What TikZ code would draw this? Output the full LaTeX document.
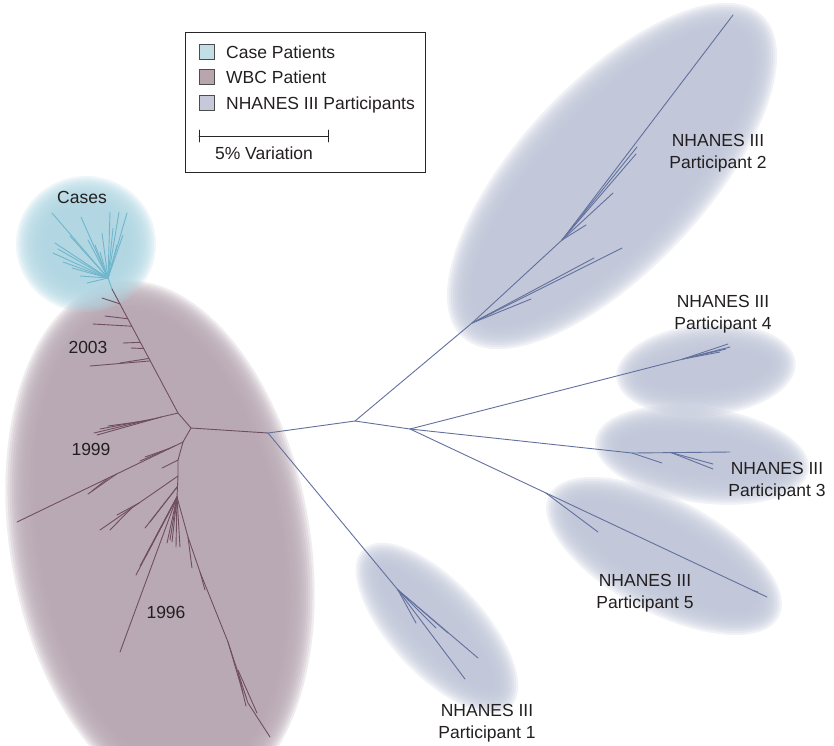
\documentclass[tikz,border=0pt]{standalone}
\usepackage{fontspec}
\setmainfont{Liberation Sans}
\usetikzlibrary{calc}

\definecolor{casecol}{RGB}{112,182,204}
\definecolor{caseblob}{RGB}{176,214,226}
\definecolor{wbccol}{RGB}{112,78,98}
\definecolor{wbcblob}{RGB}{183,167,178}
\definecolor{nhcol}{RGB}{98,112,158}
\definecolor{nhblob}{RGB}{192,198,216}
\definecolor{txt}{RGB}{35,31,32}

% soft cloud: colour, centre, angle, x radius, y radius
\newcommand{\blob}[5]{%
  \foreach \k in {0,...,13}
    \fill[#1, opacity=.22, rotate around={#3:#2}] #2 ellipse [x radius={(#4-2.2*\k)*1pt}, y radius={(#5-2.2*\k)*1pt}];
}

\begin{document}
\begin{tikzpicture}[x=1pt,y=-1pt,line cap=round,
  caseline/.style={casecol,line width=.9pt},
  wbcline/.style={wbccol,line width=.9pt},
  nhline/.style={nhcol,line width=.9pt},
  lbl/.style={txt,align=center,font=\fontsize{17.5}{21.5}\selectfont},
  swatch/.style={draw=black!70,line width=.6pt,minimum size=15pt,inner sep=0pt}]
\useasboundingbox (0,0) rectangle (834,745);

% clouds
\blob{wbcblob}{(160,542)}{10}{150}{264}
\blob{caseblob}{(86,244)}{0}{70}{68}
\blob{nhblob}{(612,176)}{47}{220}{94}
\blob{nhblob}{(706,370)}{5}{90}{46}
\blob{nhblob}{(702,455)}{-8}{108}{48}
\blob{nhblob}{(664,556)}{-28}{130}{57}
\blob{nhblob}{(437,628)}{-47}{108}{47}

% branch points
\coordinate (cr) at (108,278);
\coordinate (c0) at (112,289);
\coordinate (w1) at (178,413);
\coordinate (w2) at (191,428);
\coordinate (w3) at (183,442);
\coordinate (w4) at (178,460);
\coordinate (w5) at (178,476);
\coordinate (w6) at (177,497);
\coordinate (w7) at (188,537);
\coordinate (w8) at (200,572);
\coordinate (w9) at (228,642);
\coordinate (w10) at (248,703);
\coordinate (b0) at (268,433);
\coordinate (bA) at (355,421);
\coordinate (bB) at (472,323);
\coordinate (bS) at (562,240);
\coordinate (bC) at (410,429);
\coordinate (b4) at (683,359);
\coordinate (b3) at (632,453);
\coordinate (p1) at (398,590);

% cases
\draw[caseline] (cr) -- (c0);
\foreach \x/\y in {52/213, 81/217, 110/212, 119/212, 127/213, 123/235, 53/253, 55/243, 58/249,
  63/262, 72/268, 80/276, 87/283, 95/245, 102/233, 88/240, 113/228, 117/245, 100/252, 70/236}
  \draw[caseline] (cr) -- (\x,\y);

% WBC patient
\draw[wbcline] (c0) -- (w1) -- (w2) -- (w3) -- (w4) -- (w5) -- (w6);
\draw[wbcline] (w2) -- (b0);
\foreach \t/\x/\y in {.12/102/298, .24/105/316, .30/93/324, .43/123/343, .48/131/348, .58/90/366, .56/120/363}
  \draw[wbcline] ($(c0)!\t!(w1)$) -- (\x,\y);
\draw[wbcline] (w1) -- (94,433);
\foreach \t/\x/\y in {.2/97/435, .3/100/429, .4/108/426}
  \draw[wbcline] ($(w1)!\t!(94,433)$) -- (\x,\y);
\draw[wbcline] (w3) -- (17,522);
\foreach \t/\x/\y in {.05/140/461, .08/145/457, .40/88/494, .45/92/491}
  \draw[wbcline] ($(w3)!\t!(17,522)$) -- (\x,\y);
\draw[wbcline] (w4) -- (162,468);
\draw[wbcline] (w5) -- (100,530);
\draw[wbcline] ($(w5)!.6!(100,530)$) -- (110,530);
\draw[wbcline] ($(w5)!.5!(100,530)$) -- (117,515);
\draw[wbcline] ($(w5)!.5!(w6)$) -- (145,528);
\draw[wbcline] ($(w5)!.5!(w6)$) -- (150,522);
\draw[wbcline] (w6) -- (120,652);
\foreach \x/\y in {140/566, 146/556, 150/548, 136/575, 167/543, 172/542, 176/547, 180/547, 170/540}
  \draw[wbcline] (w6) -- (\x,\y);
\draw[wbcline] (w6) -- (w7) -- (w8) -- (w9) -- (w10) -- (270,737);
\draw[wbcline] (w7) -- (192,568);
\draw[wbcline] (w8) -- (205,590);
\draw[wbcline] (w9) -- (243,693);
\draw[wbcline] ($(w9)!.5!(w10)$) -- (246,706);
\draw[wbcline] (238,670) -- (257,713);

% NHANES III participants
\draw[nhline] (b0) -- (bA) -- (bB) -- (bS) -- (733,15);
\foreach \x/\y in {531/299, 594/258, 622/248}
  \draw[nhline] (bB) -- (\x,\y);
\foreach \x/\y in {586/225, 613/193, 636/154, 637/147}
  \draw[nhline] (bS) -- (\x,\y);
\draw[nhline] (bA) -- (bC);
\draw[nhline] (bC) -- (b4) -- (730,347);
\foreach \x/\y in {728/344, 720/352, 726/349}
  \draw[nhline] (b4) -- (\x,\y);
\draw[nhline] (bC) -- (b3) -- (730,452);
\draw[nhline] (b3) -- (662,463);
\draw[nhline] ($(b3)!.4!(730,452)$) -- (713,464);
\draw[nhline] ($(b3)!.4!(730,452)$) -- (713,469);
\draw[nhline] (bC) -- (767,597);
\draw[nhline] ($(bC)!.38!(767,597)$) -- (598,532);
\draw[nhline] ($(bC)!.96!(767,597)$) -- (758,592);
\draw[nhline] (b0) -- (p1) -- (478,658);
\foreach \x/\y in {465/679, 416/623, 448/633, 436/628}
  \draw[nhline] (p1) -- (\x,\y);

% labels
\node[lbl] (cases) at (82,197) {Cases};
\node[lbl] (y2003) at (88,347) {2003};
\node[lbl] (y1999) at (91,449) {1999};
\node[lbl] (y1996) at (166,612) {1996};
\node[lbl] (np2) at (718,153) {NHANES III\\Participant 2};
\node[lbl] (np4) at (723,314) {NHANES III\\Participant 4};
\node[lbl] (np3) at (777,481) {NHANES III\\Participant 3};
\node[lbl] (np5) at (645,593) {NHANES III\\Participant 5};
\node[lbl] (np1) at (487,723) {NHANES III\\Participant 1};

% legend
\draw[black!85,line width=.7pt] (185,32) rectangle (425,172);
\node[swatch,fill={rgb,255:red,194;green,223;blue,230}] (sw1) at (207,52) {};
\node[swatch,fill={rgb,255:red,185;green,165;blue,173}] (sw2) at (207,77) {};
\node[swatch,fill={rgb,255:red,197;green,201;blue,217}] (sw3) at (207,103) {};
\node[lbl,anchor=base west,inner sep=0pt] (lt1) at (226,58) {Case Patients};
\node[lbl,anchor=base west,inner sep=0pt] (lt2) at (226,83) {WBC Patient};
\node[lbl,anchor=base west,inner sep=0pt] (lt3) at (226,109) {NHANES III Participants};
\draw[black!85,line width=.7pt] (199,136) -- (328,136);
\draw[black!85,line width=.7pt] (199,130) -- (199,142);
\draw[black!85,line width=.7pt] (328,130) -- (328,142);
\node[lbl,anchor=base,inner sep=0pt] (scl) at (264,159) {5\% Variation};
\end{tikzpicture}
\end{document}
